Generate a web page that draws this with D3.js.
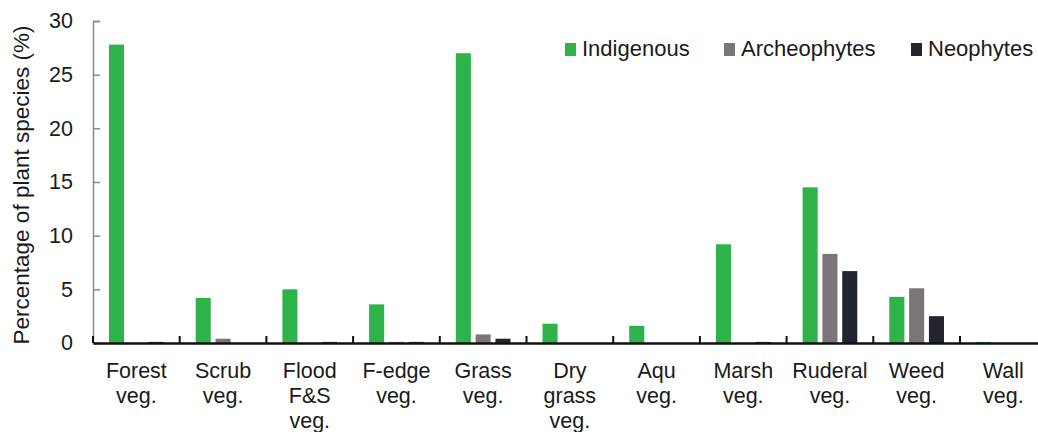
<!DOCTYPE html>
<html>
<head>
<meta charset="utf-8">
<script src="https://cdn.jsdelivr.net/npm/d3@7"></script>
<style>
  body { margin: 0; background: #fff; }
  text { font-family: "Liberation Sans", Arial, sans-serif; fill: #1a1a1a; }
</style>
</head>
<body>
<div id="chart"></div>
<script>
var categories = [
    ["Forest", "veg."], ["Scrub", "veg."], ["Flood", "F&S", "veg."], ["F-edge", "veg."],
    ["Grass", "veg."], ["Dry", "grass", "veg."], ["Aqu", "veg."], ["Marsh", "veg."],
    ["Ruderal", "veg."], ["Weed", "veg."], ["Wall", "veg."]
];
var series_names = ["Indigenous", "Archeophytes", "Neophytes"];
var indigenous   = [27.8, 4.2, 5.0, 3.6, 27.0, 1.8, 1.6, 9.2, 14.5, 4.3, 0.1];
var archeophytes = [0, 0.4, 0, 0.1, 0.8, 0, 0, 0, 8.3, 5.1, 0];
var neophytes    = [0.1, 0, 0.1, 0.1, 0.4, 0, 0, 0.1, 6.7, 2.5, 0];
var y_ticks = [0, 5, 10, 15, 20, 25, 30];

var colors = ["#2db34a", "#7b7579", "#22252d"];
var chart_width  = 1038;
var chart_height = 432;

var svg = d3.select("#chart")
    .append("svg")
    .attr("width", chart_width)
    .attr("height", chart_height);

var x_scale = d3.scaleBand()
    .domain(d3.range(categories.length))
    .range([93, 1046.7])
    .paddingInner(0)
    .paddingOuter(0);

var inner = d3.scaleBand()
    .domain(d3.range(series_names.length))
    .range([16, x_scale.bandwidth() - 16])
    .paddingInner(0.24);

var y_scale = d3.scaleLinear()
    .domain([0, 30])
    .range([343, 21]);

// y axis
var y_axis = d3.axisLeft(y_scale)
    .tickValues(y_ticks)
    .tickSize(-7)
    .tickPadding(20)
    .tickFormat(d3.format("d"));

var gy = svg.append("g")
    .attr("transform", "translate(93,0)")
    .call(y_axis);
gy.select(".domain").attr("stroke", "#8a8a8a").attr("stroke-width", 1.5);
gy.selectAll(".tick line").attr("stroke", "#8a8a8a").attr("stroke-width", 1.5);
gy.selectAll(".tick text")
    .style("font-size", "21.5px")
    .attr("fill", "#1a1a1a");

// bars
var all_series = [indigenous, archeophytes, neophytes];
all_series.forEach(function(values, s){
    svg.append("g").selectAll("rect")
        .data(values)
        .enter()
        .append("rect")
        .attr("x", function(d, i){ return x_scale(i) + inner(s); })
        .attr("y", function(d){ return y_scale(d); })
        .attr("width", inner.bandwidth())
        .attr("height", function(d){ return y_scale(0) - y_scale(d); })
        .attr("fill", colors[s]);
});

// x axis
var x_axis = d3.axisBottom(x_scale).tickSize(0).tickFormat("");
var gx = svg.append("g")
    .attr("transform", "translate(0,343)")
    .call(x_axis);
gx.select(".domain").attr("stroke", "#111").attr("stroke-width", 2.5);

svg.append("g").selectAll("line")
    .data(d3.range(categories.length + 1))
    .enter()
    .append("line")
    .attr("x1", function(d){ return 93 + d * x_scale.step(); })
    .attr("x2", function(d){ return 93 + d * x_scale.step(); })
    .attr("y1", 343)
    .attr("y2", 336)
    .attr("stroke", "#111")
    .attr("stroke-width", 2);

// category labels
var labels = svg.append("g").selectAll("text")
    .data(categories)
    .enter()
    .append("text")
    .attr("text-anchor", "middle")
    .style("font-size", "21.5px")
    .attr("x", function(d, i){ return x_scale(i) + x_scale.bandwidth() / 2; })
    .attr("y", 378);

labels.selectAll("tspan")
    .data(function(d){ return d; })
    .enter()
    .append("tspan")
    .attr("x", function(){ return d3.select(this.parentNode).attr("x"); })
    .attr("dy", function(d, i){ return i === 0 ? 0 : 25; })
    .text(function(d){ return d; });

// y label
svg.append("text")
    .attr("transform", "translate(29,185) rotate(-90)")
    .attr("text-anchor", "middle")
    .style("font-size", "22.5px")
    .text("Percentage of plant species (%)");

// legend
var legend_x = [565, 724, 911];
var legend = svg.append("g").selectAll("g")
    .data(series_names)
    .enter()
    .append("g")
    .attr("transform", function(d, i){ return "translate(" + legend_x[i] + ",43)"; });

legend.append("rect")
    .attr("width", 11)
    .attr("height", 13)
    .attr("fill", function(d, i){ return colors[i]; });

legend.append("text")
    .attr("x", 17)
    .attr("y", 13)
    .style("font-size", "22px")
    .text(function(d){ return d; });
</script>
</body>
</html>
